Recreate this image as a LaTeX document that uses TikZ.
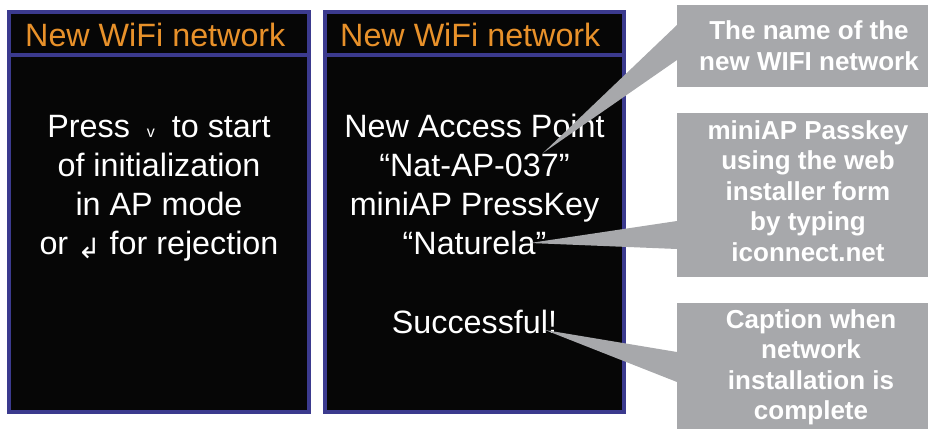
\documentclass[tikz,border=0pt]{standalone}
\usepackage{fontspec}
\setmainfont{Liberation Sans}
\newfontfamily\symfont{DejaVu Sans}
\usetikzlibrary{calc}
\definecolor{scrblue}{HTML}{3B3A8E}
\definecolor{scrblack}{HTML}{060606}
\definecolor{ttlorange}{HTML}{E8912A}
\definecolor{callgray}{HTML}{A7A8AB}
\tikzset{
  frame/.style={fill=scrblue, draw=none},
  pane/.style={fill=scrblack, draw=none},
  ttl/.style={anchor=base west, inner sep=0pt, text=ttlorange, font=\fontsize{32.3}{38}\selectfont},
  body/.style={anchor=base, inner sep=0pt, text=white},
  callbox/.style={fill=callgray, draw=none},
  calltext/.style={anchor=base, inner sep=0pt, text=white},
  wedge/.style={fill=callgray, draw=none}
}
\newcommand{\bodyfont}{\fontsize{32.3}{39.3}\selectfont}
\newcommand{\callfont}{\fontsize{26}{30.6}\selectfont\bfseries}
\begin{document}
\begin{tikzpicture}[x=1pt,y=-1pt]
\useasboundingbox (0,0) rectangle (928,428);
\clip (0,0) rectangle (928,428);
% screen 1
\fill[frame] (7,10) rectangle (311,414);
\fill[pane] (11,14) rectangle (307,53);
\fill[pane] (11,57) rectangle (307,410);
\node[ttl] (t1) at (25,47) {New WiFi network};
\node[body] (b1) at (159,137) {\bodyfont\setlength{\tabcolsep}{0pt}\begin{tabular}[t]{c}
Press\hspace{17pt}{\fontsize{16}{16}\selectfont v}\hspace{17pt}to start\\
of initialization\\
in AP mode\\
or\hspace{9pt}\raisebox{-4pt}{\symfont\fontsize{28}{28}\selectfont ↲}\hspace{9pt}for rejection
\end{tabular}};
% screen 2
\fill[frame] (323,10) rectangle (626,414);
\fill[pane] (327,14) rectangle (622,53);
\fill[pane] (327,57) rectangle (622,410);
\node[ttl] (t2) at (340,47) {New WiFi network};
\node[body] (b2) at (474.5,137) {\bodyfont\setlength{\tabcolsep}{0pt}\begin{tabular}[t]{c}
New Access Point\\
“Nat-AP-037”\\
miniAP PressKey\\
“Naturela”\\
\\
Successful!
\end{tabular}};
% callout pointers
\coordinate (tip1) at (543,153);
\coordinate (tip2) at (530,243);
\coordinate (tip3) at (545,330);
% callout boxes
\node[callbox, anchor=north west, minimum width=264pt, minimum height=82pt, inner sep=0pt] (c1) at (677,5) {};
\node[callbox, anchor=north west, minimum width=264pt, minimum height=164pt, inner sep=0pt] (c2) at (677,113) {};
\node[callbox, anchor=north west, minimum width=264pt, minimum height=140pt, inner sep=0pt] (c3) at (677,303) {};
\fill[wedge] (tip1) -- ($(c1.north west)+(0,20)$) -- ($(c1.north west)+(0,55)$) -- cycle;
\fill[wedge] (tip2) -- ($(c2.north west)+(0,108)$) -- ($(c2.north west)+(0,136)$) -- cycle;
\fill[wedge] (tip3) -- ($(c3.north west)+(0,49)$) -- ($(c3.north west)+(0,79)$) -- cycle;
\node[calltext] (l1) at (809,40) {\callfont\setlength{\tabcolsep}{0pt}\begin{tabular}[t]{c}
The name of the\\
new WIFI network
\end{tabular}};
\node[calltext] (l2) at (808,139) {\callfont\setlength{\tabcolsep}{0pt}\begin{tabular}[t]{c}
miniAP Passkey\\
using the web\\
installer form\\
by typing\\
iconnect.net
\end{tabular}};
\node[calltext] (l3) at (811,328) {\callfont\setlength{\tabcolsep}{0pt}\begin{tabular}[t]{c}
Caption when\\
network\\
installation is\\
complete
\end{tabular}};
\end{tikzpicture}
\end{document}
